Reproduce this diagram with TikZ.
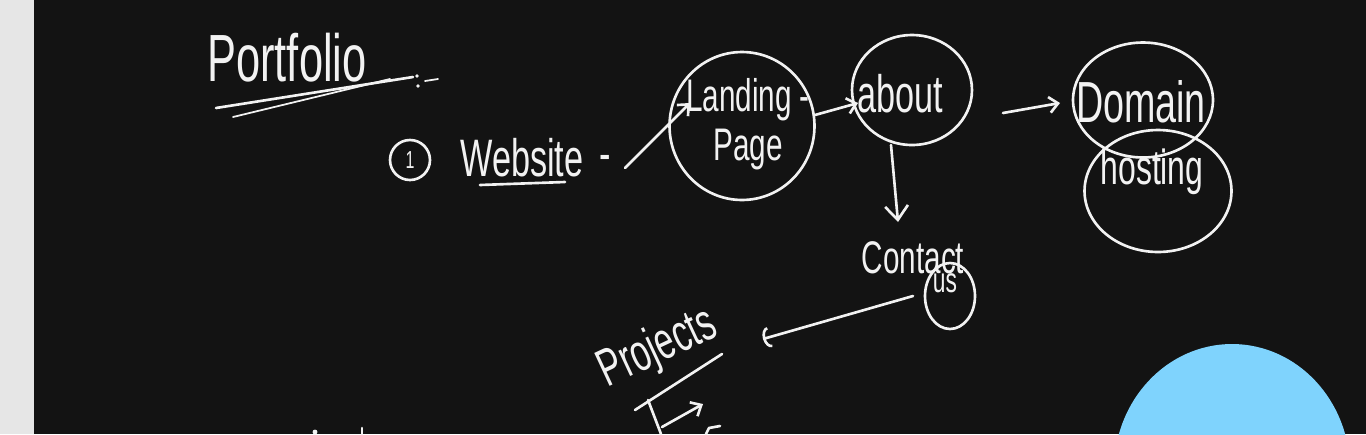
\documentclass[tikz,border=0pt]{standalone}
\usepackage{fontspec}
\usepackage{tikz}
\usetikzlibrary{shapes.geometric, arrows.meta, positioning}
\newfontfamily\handfont[FakeStretch=0.65]{Liberation Sans}
\newcommand{\handsz}[2]{\handfont\fontsize{#1}{#2}\selectfont}
\definecolor{boardblack}{HTML}{131313}
\definecolor{boardgray}{HTML}{E6E6E6}
\definecolor{chalk}{HTML}{F2F2F2}
\definecolor{blobblue}{HTML}{7FD3FD}

\begin{document}
\begin{tikzpicture}[
    x=0.02cm, y=-0.02cm,
    hand/.style={text=chalk, inner sep=0pt},
    ring/.style={ellipse, draw=chalk, line width=1.5pt, inner sep=0pt},
    stroke/.style={draw=chalk, line width=1.5pt, line cap=round, line join=round},
    arrow/.style={stroke, -{Straight Barb[length=5pt, width=9pt]}},
    bigarrow/.style={stroke, -{Straight Barb[length=8pt, width=13pt]}}
]

\clip (0,0) rectangle (1366,434);
\fill[boardblack] (0,0) rectangle (1366,434);
\fill[boardgray] (0,0) rectangle (34,434);

% title
\node[hand, font=\handsz{38}{46}] (title) at (287,58) {Portfolio};
\draw[stroke] (216,108) -- (413,77);
\draw[stroke, line width=1pt] (233,117) -- (390,79);
\fill[chalk] (417,76) circle (1.1pt) (418,86) circle (1.1pt);
\draw[stroke, line width=1pt] (425,81) -- (438,79);

% website row
\node[ring, circle, minimum size=0.8cm, text=chalk, font=\handsz{14}{16}] (one) at (410,160) {1};
\node[hand, font=\handsz{30}{36}] (site) at (522,158) {Website};
\node[hand, font=\handsz{30}{36}] (sitedash) at (605,163) {-};
\draw[stroke] (480,185) -- (565,182);

\node[ring, minimum width=2.9cm, minimum height=2.96cm] (landing) at (742,126) {};
\node[hand, font=\handsz{26}{28}, align=center] (landingtext) at (748,124) {Landing -\\Page};

\node[ring, minimum width=2.4cm, minimum height=2.2cm] (about) at (912,90) {};
\node[hand, font=\handsz{30}{36}] (abouttext) at (900,94) {about};

\node[ring, minimum width=2.8cm, minimum height=2.3cm] (domain) at (1143,100) {};
\node[hand, font=\handsz{33}{40}] (domaintext) at (1141,102) {Domain};
\node[ring, minimum width=2.94cm, minimum height=2.44cm] (hosting) at (1158,191) {};
\node[hand, font=\handsz{28}{32}] (hostingtext) at (1152,172) {hosting};

\node[hand, font=\handsz{26}{30}] (contact) at (913,258) {Contact};
\node[ring, minimum width=1cm, minimum height=1.32cm] (us) at (950,296) {};
\node[hand, font=\handsz{20}{24}] (ustext) at (945,283) {us};

\node[hand, font=\handsz{30}{36}, rotate=25] (projects) at (658,349) {Projects};
\draw[stroke] (635,410) -- (722,354);
\draw[stroke] (648,400) -- (661,434);
\draw[arrow] (662,427) -- (703,404);
\draw[stroke] (706,434) -- (709,428) -- (720,426);

\fill[chalk] (315,432) circle (1.4pt);
\draw[stroke] (362,428) -- (362,436);

% connectors
\draw[arrow] ([xshift=.4cm, yshift=-.1cm]sitedash.center) -- ([xshift=-1.04cm, yshift=.46cm]landing.center);
\draw[arrow] ([xshift=1.46cm, yshift=.22cm]landing.center) -- ([xshift=-1.08cm, yshift=-.26cm]about.center);
\draw[bigarrow] ([xshift=-.42cm, yshift=-1.1cm]about.center) -- ([xshift=-.3cm, yshift=.72cm]contact.center);
\draw[arrow] ([xshift=1.82cm, yshift=-.46cm]about.center) -- ([xshift=-1.66cm, yshift=-.06cm]domain.center);
\draw[stroke, -{Arc Barb[length=4pt, width=12pt]}] ([xshift=-.74cm]us.center) -- ([xshift=2.1cm, yshift=.2cm]projects.center);

\fill[blobblue] (1232,470) ellipse [x radius=2.36cm, y radius=2.52cm];

\end{tikzpicture}
\end{document}
